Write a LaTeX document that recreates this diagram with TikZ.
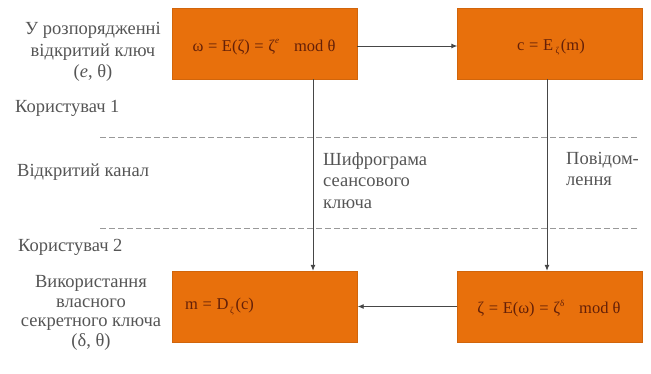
\documentclass[tikz,border=0pt]{standalone}
\usepackage{fontspec}
\setmainfont{Liberation Serif}
\usetikzlibrary{arrows.meta}
\definecolor{boxor}{RGB}{232,112,12}
\definecolor{boxtxt}{RGB}{100,32,8}
\definecolor{linegray}{RGB}{70,70,70}
\definecolor{lblgray}{RGB}{85,85,85}
\newcommand{\subsc}[1]{\raisebox{-0.45ex}{\fontsize{9}{10}\selectfont #1}}
\newcommand{\supsc}[1]{\raisebox{0.95ex}{\fontsize{9}{10}\selectfont #1}}
\newcommand{\eqs}{\hspace{0.28em}=\hspace{0.28em}}
\begin{document}
\begin{tikzpicture}[x=1pt,y=-1pt,
  box/.style={fill=boxor,draw=boxor!90!black,minimum width=185pt,minimum height=71pt,inner sep=0pt,font=\fontsize{16.5}{19}\selectfont,text=boxtxt},
  boxtext/.style={font=\fontsize{16.5}{19}\selectfont,text=boxtxt,inner sep=0pt},
  lbl/.style={font=\fontsize{18.5}{21.5}\selectfont,text=lblgray,align=center,inner sep=0pt},
  conn/.style={draw=linegray,line width=0.9pt,-{Latex[length=6pt,width=5pt]}},
  sep/.style={draw=black!40,line width=0.9pt,dash pattern=on 6pt off 3pt}]
\useasboundingbox (0,0) rectangle (651,374);
\node[box] (b1) at (264.5,43.5) {};
\node[boxtext] (b1t) at (264,47) {ω\eqs E(ζ)\eqs ζ\supsc{\itshape e}\hspace{0.9em}mod θ};
\node[box] (b2) at (550,43.5) {};
\node[boxtext] (b2t) at (551,47) {c\eqs E\hspace{0.15em}\subsc{ζ}\hspace{0.1em}(m)};
\node[box] (b3) at (265,306.5) {};
\node[boxtext,anchor=west] (b3t) at (185,306.5) {m\eqs D\hspace{0.1em}\subsc{ζ}\hspace{0.1em}(c)};
\node[box] (b4) at (550,306.5) {};
\node[boxtext] (b4t) at (549,309) {ζ\eqs E(ω)\eqs ζ\supsc{δ}\hspace{0.9em}mod θ};
\coordinate (s1a) at (100,137); \coordinate (s1b) at (638,137);
\coordinate (s2a) at (100,228); \coordinate (s2b) at (638,228);
\draw[sep] (s1a) -- (s1b);
\draw[sep] (s2a) -- (s2b);
\draw[conn] (b1.east |- 0,46) -- (b2.west |- 0,46);
\draw[conn] (b1.south -| 313,0) -- (b3.north -| 313,0);
\draw[conn] (b2.south -| 547,0) -- (b4.north -| 547,0);
\draw[conn] (b4.west) -- (b3.east);
\node[lbl] (t1) at (93,52) {У розпорядженні\\відкритий ключ\\(\textit{e}, θ)};
\node[lbl,anchor=west] (t2) at (15,108) {Користувач 1};
\node[lbl,anchor=west] (t3) at (17,172) {Відкритий канал};
\node[lbl,anchor=west] (t4) at (18,247) {Користувач 2};
\node[lbl,font=\fontsize{18.5}{19.5}\selectfont] (t5) at (91,313) {Використання\\власного\\секретного ключа\\(δ, θ)};
\node[lbl,align=left,anchor=north west] (t6) at (323,152) {Шифрограма\\сеансового\\ключа};
\node[lbl,align=left,anchor=north west] (t7) at (566,152) {Повідом-\\лення};
\end{tikzpicture}
\end{document}
